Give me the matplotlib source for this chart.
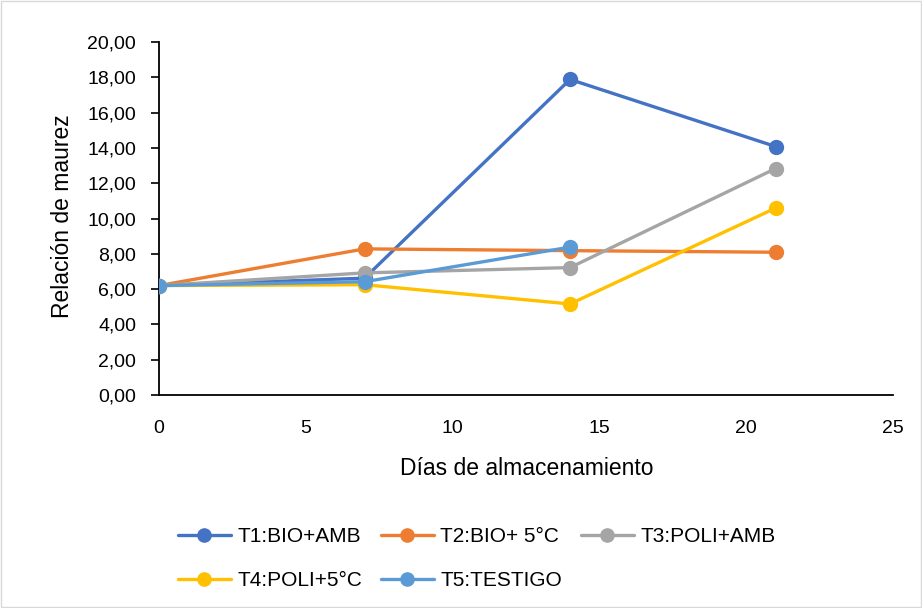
import matplotlib
matplotlib.use("Agg")
import matplotlib.pyplot as plt
from matplotlib.ticker import FuncFormatter, MultipleLocator
from matplotlib.patches import Rectangle

plt.rcParams['font.family'] = ['Liberation Sans', 'DejaVu Sans']

# Storage days and ripeness ratio per treatment
days = [0, 7, 14, 21]
t1_bio_amb = [6.20, 6.62, 17.88, 14.08]
t2_bio_5c = [6.20, 8.28, 8.18, 8.09]
t3_poli_amb = [6.20, 6.92, 7.22, 12.83]
t4_poli_5c = [6.20, 6.25, 5.16, 10.59]
t5_testigo = [6.20, 6.42, 8.38]

labels = ["T1:BIO+AMB", "T2:BIO+ 5°C", "T3:POLI+AMB", "T4:POLI+5°C", "T5:TESTIGO"]
colors = ["#4472C4", "#ED7D31", "#A5A5A5", "#FFC000", "#5B9BD5"]
series = [t1_bio_amb, t2_bio_5c, t3_poli_amb, t4_poli_5c, t5_testigo]

fig = plt.figure(figsize=(9.22, 6.08), dpi=100)
fig.patch.set_facecolor("white")
fig.patches.append(Rectangle((0.0015, 0.0015), 0.997, 0.997, transform=fig.transFigure,
                             fill=False, edgecolor="#D9D9D9", linewidth=1.0))

ax = fig.add_axes([0.1725, 0.3503, 0.796, 0.5806])

handles = []
for vals, lab, col in zip(series, labels, colors):
    h, = ax.plot(days[:len(vals)], vals, color=col, linewidth=2.4, marker="o",
                 markersize=10, label=lab, solid_capstyle="round", zorder=3)
    handles.append(h)

ax.set_xlim(0, 25)
ax.set_ylim(0, 20)
ax.xaxis.set_major_locator(MultipleLocator(5))
ax.yaxis.set_major_locator(MultipleLocator(2))
ax.yaxis.set_major_formatter(FuncFormatter(lambda v, p: f"{v:.2f}".replace(".", ",")))

for side in ("top", "right"):
    ax.spines[side].set_visible(False)
for side in ("left", "bottom"):
    ax.spines[side].set_color("black")
    ax.spines[side].set_linewidth(1.3)

ax.tick_params(axis="y", length=6, width=1.2, pad=10.5, labelsize=14, colors="black")
ax.tick_params(axis="x", length=0, pad=18, labelsize=14, colors="black")

ax.set_xlabel("Días de almacenamiento", fontsize=16.5, va="center")
ax.xaxis.set_label_coords(0.501, -0.207)
ax.set_ylabel("Relación de maurez", fontsize=16.5, va="center")
ax.yaxis.set_label_coords(-0.131, 0.507)

# Row-wise legend order for a 3-column layout
order = [0, 3, 1, 4, 2]
leg = fig.legend([handles[i] for i in order], [labels[i] for i in order],
                 loc="center", bbox_to_anchor=(0.517, 0.0814), ncol=3, frameon=False,
                 fontsize=15, handlelength=2.55, handletextpad=0.3,
                 columnspacing=0.9, labelspacing=1.2, markerscale=0.95)

fig.savefig("out.png", dpi=100)
